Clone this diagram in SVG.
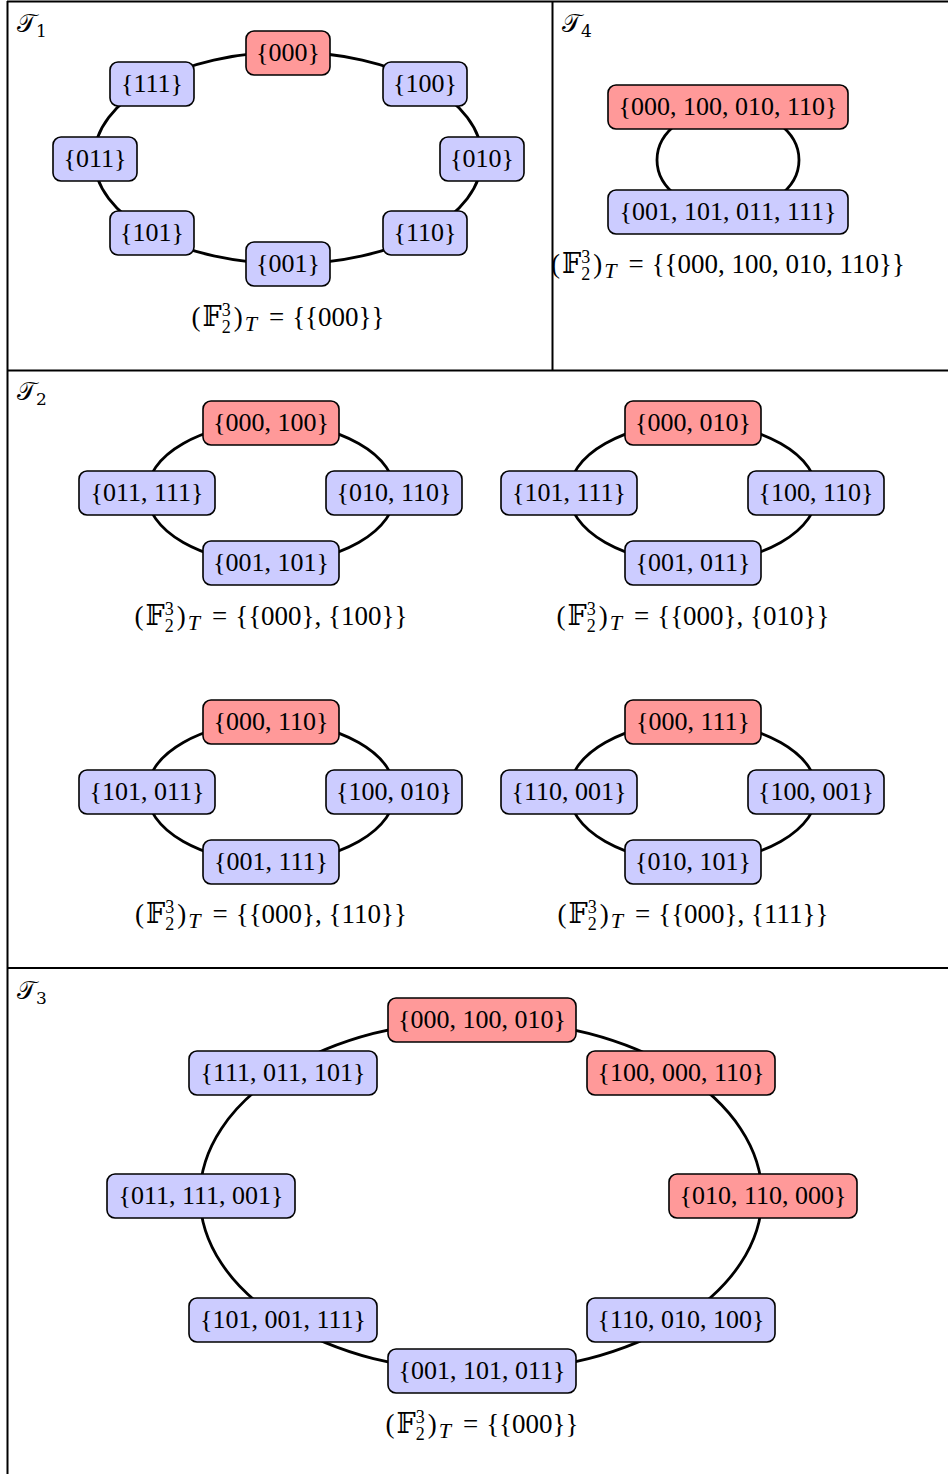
<svg xmlns="http://www.w3.org/2000/svg" width="948" height="1474" viewBox="0 0 948 1474">
<style>
.red{fill:#FF9999;stroke:#000;stroke-width:1.6}
.blue{fill:#CCCCFF;stroke:#000;stroke-width:1.6}
.t{font-family:"Liberation Serif","DejaVu Serif",serif;font-size:26px;text-anchor:middle;fill:#000}
.f{font-family:"Liberation Serif","DejaVu Serif",serif;font-size:27px;text-anchor:middle;fill:#000}
.pl{font-family:"DejaVu Serif","Liberation Serif",serif;font-size:25px;fill:#000}
.s{font-size:17px}
.ss{font-size:18px}
.st{font-size:22px;font-style:italic}
.edge{fill:none;stroke:#000;stroke-width:2.8}
.frame{stroke:#000;stroke-width:2;fill:none}
</style>
<rect width="948" height="1474" fill="#fff"/>
<g id="frame">
<line class="frame" x1="7" y1="1.5" x2="948" y2="1.5"/>
<line class="frame" x1="7.5" y1="1" x2="7.5" y2="1474"/>
<line class="frame" x1="552.5" y1="1" x2="552.5" y2="371"/>
<line class="frame" x1="7" y1="370.5" x2="948" y2="370.5"/>
<line class="frame" x1="7" y1="968" x2="948" y2="968"/>
</g>
<g id="panel-labels">
<text class="pl" x="17" y="32">𝒯<tspan class="s" dy="5">1</tspan></text>
<text class="pl" x="562" y="32">𝒯<tspan class="s" dy="5">4</tspan></text>
<text class="pl" x="17" y="400">𝒯<tspan class="s" dy="5">2</tspan></text>
<text class="pl" x="17" y="999">𝒯<tspan class="s" dy="5">3</tspan></text>
</g>
<g id="connectors">
<path class="edge" d="M288,52 A194,106 0 0 1 425.2,83.05"/>
<path class="edge" d="M425.2,83.05 A194,106 0 0 1 482,158"/>
<path class="edge" d="M482,158 A194,106 0 0 1 425.2,232.95"/>
<path class="edge" d="M425.2,232.95 A194,106 0 0 1 288,264"/>
<path class="edge" d="M288,264 A194,106 0 0 1 150.8,232.95"/>
<path class="edge" d="M150.8,232.95 A194,106 0 0 1 94,158"/>
<path class="edge" d="M94,158 A194,106 0 0 1 150.8,83.05"/>
<path class="edge" d="M150.8,83.05 A194,106 0 0 1 288,52"/>
<path class="edge" d="M728,108 A71,52 0 0 1 728,212"/>
<path class="edge" d="M728,212 A71,52 0 0 1 728,108"/>
<path class="edge" d="M271,423 A124,70 0 0 1 395,493"/>
<path class="edge" d="M395,493 A124,70 0 0 1 271,563"/>
<path class="edge" d="M271,563 A124,70 0 0 1 147,493"/>
<path class="edge" d="M147,493 A124,70 0 0 1 271,423"/>
<path class="edge" d="M693,423 A124,70 0 0 1 817,493"/>
<path class="edge" d="M817,493 A124,70 0 0 1 693,563"/>
<path class="edge" d="M693,563 A124,70 0 0 1 569,493"/>
<path class="edge" d="M569,493 A124,70 0 0 1 693,423"/>
<path class="edge" d="M271,722 A124,70 0 0 1 395,792"/>
<path class="edge" d="M395,792 A124,70 0 0 1 271,862"/>
<path class="edge" d="M271,862 A124,70 0 0 1 147,792"/>
<path class="edge" d="M147,792 A124,70 0 0 1 271,722"/>
<path class="edge" d="M693,722 A124,70 0 0 1 817,792"/>
<path class="edge" d="M817,792 A124,70 0 0 1 693,862"/>
<path class="edge" d="M693,862 A124,70 0 0 1 569,792"/>
<path class="edge" d="M569,792 A124,70 0 0 1 693,722"/>
<path class="edge" d="M481,1020 A281,176 0 0 1 679.7,1071.55"/>
<path class="edge" d="M679.7,1071.55 A281,176 0 0 1 762,1196"/>
<path class="edge" d="M762,1196 A281,176 0 0 1 679.7,1320.45"/>
<path class="edge" d="M679.7,1320.45 A281,176 0 0 1 481,1372"/>
<path class="edge" d="M481,1372 A281,176 0 0 1 282.3,1320.45"/>
<path class="edge" d="M282.3,1320.45 A281,176 0 0 1 200,1196"/>
<path class="edge" d="M200,1196 A281,176 0 0 1 282.3,1071.55"/>
<path class="edge" d="M282.3,1071.55 A281,176 0 0 1 481,1020"/>
</g>
<g id="t1-000"><rect class="red" x="246" y="31" width="84" height="44" rx="8"/><text class="t" x="288" y="61">{000}</text></g>
<g id="t1-100"><rect class="blue" x="383" y="62" width="84" height="44" rx="8"/><text class="t" x="425" y="92">{100}</text></g>
<g id="t1-010"><rect class="blue" x="440" y="137" width="84" height="44" rx="8"/><text class="t" x="482" y="167">{010}</text></g>
<g id="t1-110"><rect class="blue" x="383" y="211" width="84" height="44" rx="8"/><text class="t" x="425" y="241">{110}</text></g>
<g id="t1-001"><rect class="blue" x="246" y="242" width="84" height="44" rx="8"/><text class="t" x="288" y="272">{001}</text></g>
<g id="t1-101"><rect class="blue" x="110" y="211" width="84" height="44" rx="8"/><text class="t" x="152" y="241">{101}</text></g>
<g id="t1-011"><rect class="blue" x="53" y="137" width="84" height="44" rx="8"/><text class="t" x="95" y="167">{011}</text></g>
<g id="t1-111"><rect class="blue" x="110" y="62" width="84" height="44" rx="8"/><text class="t" x="152" y="92">{111}</text></g>
<g id="t1-formula"><text class="f" x="288" y="326">(<tspan dx="2">𝔽</tspan><tspan class="ss" dy="-10">3</tspan><tspan class="ss" dx="-9" dy="17">2</tspan><tspan dx="3" dy="-7">)</tspan><tspan class="st" dx="2" dy="5">T</tspan><tspan dx="12" dy="-5">=</tspan><tspan dx="8">{{000}}</tspan></text></g>
<g id="t4-top"><rect class="red" x="608" y="85" width="240" height="44" rx="8"/><text class="t" x="728" y="115">{000, 100, 010, 110}</text></g>
<g id="t4-bottom"><rect class="blue" x="608" y="190" width="240" height="44" rx="8"/><text class="t" x="728" y="220">{001, 101, 011, 111}</text></g>
<g id="t4-formula"><text class="f" x="728" y="273">(<tspan dx="2">𝔽</tspan><tspan class="ss" dy="-10">3</tspan><tspan class="ss" dx="-9" dy="17">2</tspan><tspan dx="3" dy="-7">)</tspan><tspan class="st" dx="2" dy="5">T</tspan><tspan dx="12" dy="-5">=</tspan><tspan dx="8">{{000, 100, 010, 110}}</tspan></text></g>
<g id="t2a-top"><rect class="red" x="203" y="401" width="136" height="44" rx="8"/><text class="t" x="271" y="431">{000, 100}</text></g>
<g id="t2a-left"><rect class="blue" x="79" y="471" width="136" height="44" rx="8"/><text class="t" x="147" y="501">{011, 111}</text></g>
<g id="t2a-right"><rect class="blue" x="326" y="471" width="136" height="44" rx="8"/><text class="t" x="394" y="501">{010, 110}</text></g>
<g id="t2a-bottom"><rect class="blue" x="203" y="541" width="136" height="44" rx="8"/><text class="t" x="271" y="571">{001, 101}</text></g>
<g id="t2a-formula"><text class="f" x="271" y="625">(<tspan dx="2">𝔽</tspan><tspan class="ss" dy="-10">3</tspan><tspan class="ss" dx="-9" dy="17">2</tspan><tspan dx="3" dy="-7">)</tspan><tspan class="st" dx="2" dy="5">T</tspan><tspan dx="12" dy="-5">=</tspan><tspan dx="8">{{000}, {100}}</tspan></text></g>
<g id="t2b-top"><rect class="red" x="625" y="401" width="136" height="44" rx="8"/><text class="t" x="693" y="431">{000, 010}</text></g>
<g id="t2b-left"><rect class="blue" x="501" y="471" width="136" height="44" rx="8"/><text class="t" x="569" y="501">{101, 111}</text></g>
<g id="t2b-right"><rect class="blue" x="748" y="471" width="136" height="44" rx="8"/><text class="t" x="816" y="501">{100, 110}</text></g>
<g id="t2b-bottom"><rect class="blue" x="625" y="541" width="136" height="44" rx="8"/><text class="t" x="693" y="571">{001, 011}</text></g>
<g id="t2b-formula"><text class="f" x="693" y="625">(<tspan dx="2">𝔽</tspan><tspan class="ss" dy="-10">3</tspan><tspan class="ss" dx="-9" dy="17">2</tspan><tspan dx="3" dy="-7">)</tspan><tspan class="st" dx="2" dy="5">T</tspan><tspan dx="12" dy="-5">=</tspan><tspan dx="8">{{000}, {010}}</tspan></text></g>
<g id="t2c-top"><rect class="red" x="203" y="700" width="136" height="44" rx="8"/><text class="t" x="271" y="730">{000, 110}</text></g>
<g id="t2c-left"><rect class="blue" x="79" y="770" width="136" height="44" rx="8"/><text class="t" x="147" y="800">{101, 011}</text></g>
<g id="t2c-right"><rect class="blue" x="326" y="770" width="136" height="44" rx="8"/><text class="t" x="394" y="800">{100, 010}</text></g>
<g id="t2c-bottom"><rect class="blue" x="203" y="840" width="136" height="44" rx="8"/><text class="t" x="271" y="870">{001, 111}</text></g>
<g id="t2c-formula"><text class="f" x="271" y="923">(<tspan dx="2">𝔽</tspan><tspan class="ss" dy="-10">3</tspan><tspan class="ss" dx="-9" dy="17">2</tspan><tspan dx="3" dy="-7">)</tspan><tspan class="st" dx="2" dy="5">T</tspan><tspan dx="12" dy="-5">=</tspan><tspan dx="8">{{000}, {110}}</tspan></text></g>
<g id="t2d-top"><rect class="red" x="625" y="700" width="136" height="44" rx="8"/><text class="t" x="693" y="730">{000, 111}</text></g>
<g id="t2d-left"><rect class="blue" x="501" y="770" width="136" height="44" rx="8"/><text class="t" x="569" y="800">{110, 001}</text></g>
<g id="t2d-right"><rect class="blue" x="748" y="770" width="136" height="44" rx="8"/><text class="t" x="816" y="800">{100, 001}</text></g>
<g id="t2d-bottom"><rect class="blue" x="625" y="840" width="136" height="44" rx="8"/><text class="t" x="693" y="870">{010, 101}</text></g>
<g id="t2d-formula"><text class="f" x="693" y="923">(<tspan dx="2">𝔽</tspan><tspan class="ss" dy="-10">3</tspan><tspan class="ss" dx="-9" dy="17">2</tspan><tspan dx="3" dy="-7">)</tspan><tspan class="st" dx="2" dy="5">T</tspan><tspan dx="12" dy="-5">=</tspan><tspan dx="8">{{000}, {111}}</tspan></text></g>
<g id="t3-top"><rect class="red" x="388" y="998" width="188" height="44" rx="8"/><text class="t" x="482" y="1028">{000, 100, 010}</text></g>
<g id="t3-ur"><rect class="red" x="587" y="1051" width="188" height="44" rx="8"/><text class="t" x="681" y="1081">{100, 000, 110}</text></g>
<g id="t3-r"><rect class="red" x="669" y="1174" width="188" height="44" rx="8"/><text class="t" x="763" y="1204">{010, 110, 000}</text></g>
<g id="t3-lr"><rect class="blue" x="587" y="1298" width="188" height="44" rx="8"/><text class="t" x="681" y="1328">{110, 010, 100}</text></g>
<g id="t3-bottom"><rect class="blue" x="388" y="1349" width="188" height="44" rx="8"/><text class="t" x="482" y="1379">{001, 101, 011}</text></g>
<g id="t3-ll"><rect class="blue" x="189" y="1298" width="188" height="44" rx="8"/><text class="t" x="283" y="1328">{101, 001, 111}</text></g>
<g id="t3-l"><rect class="blue" x="107" y="1174" width="188" height="44" rx="8"/><text class="t" x="201" y="1204">{011, 111, 001}</text></g>
<g id="t3-ul"><rect class="blue" x="189" y="1051" width="188" height="44" rx="8"/><text class="t" x="283" y="1081">{111, 011, 101}</text></g>
<g id="t3-formula"><text class="f" x="482" y="1433">(<tspan dx="2">𝔽</tspan><tspan class="ss" dy="-10">3</tspan><tspan class="ss" dx="-9" dy="17">2</tspan><tspan dx="3" dy="-7">)</tspan><tspan class="st" dx="2" dy="5">T</tspan><tspan dx="12" dy="-5">=</tspan><tspan dx="8">{{000}}</tspan></text></g>
</svg>
